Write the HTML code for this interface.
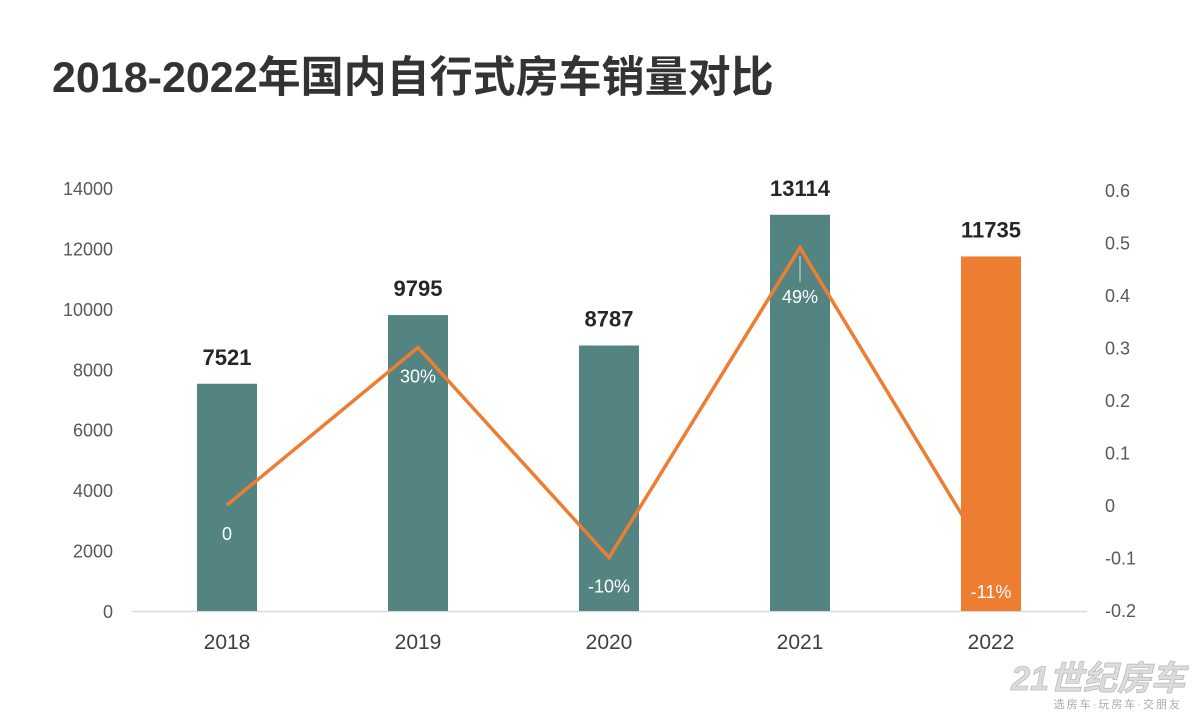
<!DOCTYPE html>
<html><head><meta charset="utf-8">
<style>
body{margin:0;background:#fff;}
svg{display:block;font-family:"Liberation Sans","Noto Sans CJK SC",sans-serif;}
</style></head>
<body>
<svg id="chart" width="1200" height="720" viewBox="0 0 1200 720">
<text x="52" y="92" font-size="43" font-weight="bold" fill="#333">2018-2022年国内自行式房车销量对比</text>
<g id="axes"></g>
<g id="bars"></g>
<g id="line"></g>
<g id="bars2"></g>
<g id="labels"></g>
<g>
<text x="1185" y="690" text-anchor="end" font-size="34" font-weight="bold" font-style="italic" fill="#ddd" stroke="#bbb" stroke-width="0.8">21世纪房车</text>
<text x="1182" y="708" text-anchor="end" font-size="11" fill="#aaa" letter-spacing="2">选房车·玩房车·交朋友</text>
</g>
</svg>
<script>
const categories=["2018","2019","2020","2021","2022"];
const sales=[7521,9795,8787,13114,11735];
const growth=[0,0.30,-0.10,0.49,-0.11];
const growthLabels=["0","30%","-10%","49%","-11%"];
const leftTicks=[0,2000,4000,6000,8000,10000,12000,14000];
const rightTicks=[-0.2,-0.1,0,0.1,0.2,0.3,0.4,0.5,0.6];

const NS="http://www.w3.org/2000/svg";
function mk(tag,attrs,parent,text){const e=document.createElementNS(NS,tag);for(const k in attrs)e.setAttribute(k,attrs[k]);if(text!==undefined)e.textContent=text;parent.appendChild(e);return e;}
const yL=v=>611-v*(423/14000);
const yR=v=>505-v*525;
const xC=i=>227+i*191;
const axes=document.getElementById('axes'),bars=document.getElementById('bars'),bars2=document.getElementById('bars2'),line=document.getElementById('line'),labels=document.getElementById('labels');

let bl=mk('line',{x1:132,x2:1087,y1:611.5,y2:611.5,stroke:'#d9d9d9','stroke-width':1.5},axes);


leftTicks.forEach(t=>{
 const e=mk('text',{x:113,y:yL(t)+7,'text-anchor':'end','font-size':18,fill:'#595959'},axes,String(t));
 
 
});
rightTicks.forEach(t=>{
 const e=mk('text',{x:1105,y:yR(t)+7,'font-size':18,fill:'#595959'},axes,String(t));
 
 
});
categories.forEach((c,i)=>{
 const e=mk('text',{x:xC(i),y:649,'text-anchor':'middle','font-size':21,fill:'#404040'},axes,c);
 
 
});
const pts=growth.map((g,i)=>xC(i)+','+yR(g)).join(' ');
const pl=mk('polyline',{points:pts,fill:'none',stroke:'#ED7D31','stroke-width':3.5,'stroke-linejoin':'miter'},line);


sales.forEach((v,i)=>{
 const last=i===sales.length-1;
 const r=mk('rect',{x:xC(i)-30,y:yL(v),width:60,height:611-yL(v),fill:last?'#ED7D31':'#548482'},last?bars2:bars);
 
 
 const t=mk('text',{x:xC(i),y:yL(v)-19,'text-anchor':'middle','font-size':22,'font-weight':'bold',fill:'#262626'},labels,String(v));
 
 
});
growth.forEach((g,i)=>{
 const off=(i===3)?55:35;
 if(i===3){
  const ld=mk('line',{x1:xC(i),x2:xC(i),y1:yR(g)+8,y2:yR(g)+34,stroke:'#d9d9d9','stroke-width':1},labels);
  
  
 }
 const t=mk('text',{x:xC(i),y:yR(g)+off,'text-anchor':'middle','font-size':18,fill:'#fff'},labels,growthLabels[i]);
 
 
});
</script>
</body></html>
